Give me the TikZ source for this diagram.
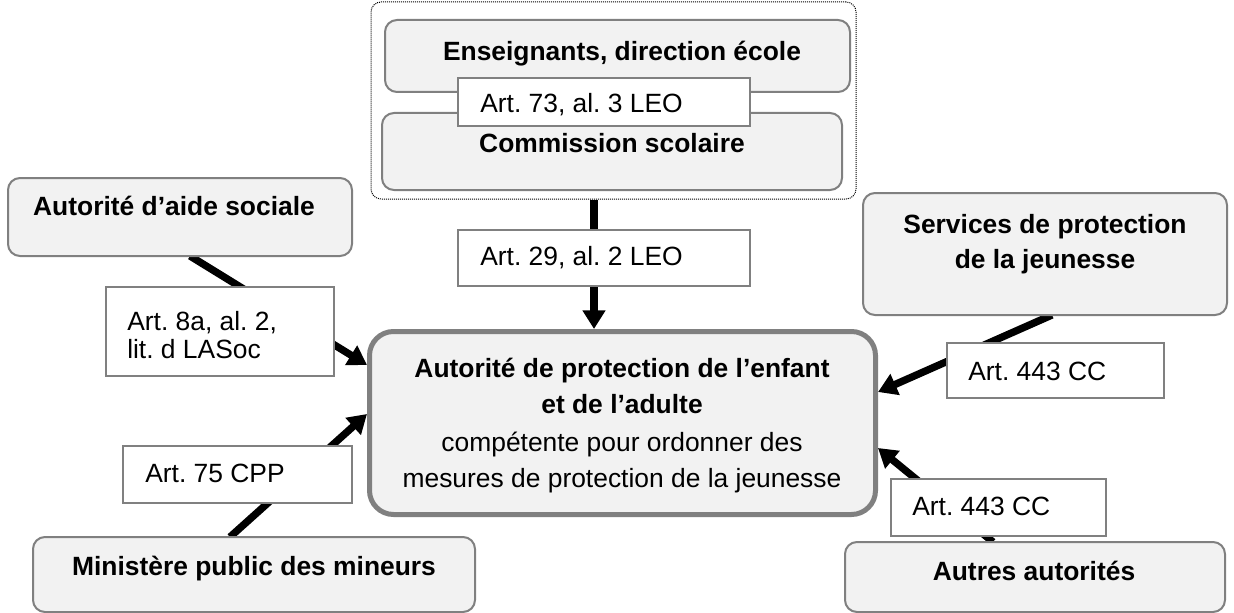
\documentclass[tikz,border=0pt]{standalone}
\usepackage{fontspec}
\setmainfont{Liberation Sans}
\usetikzlibrary{arrows.meta,calc}
\frenchspacing

\definecolor{boxfill}{HTML}{F2F2F2}
\definecolor{boxline}{HTML}{808080}

\tikzset{
  actor/.style={draw=boxline, fill=boxfill, line width=1.5pt, rounded corners=9pt,
    inner sep=0pt},
  central/.style={draw=boxline, fill=boxfill, line width=3.75pt, rounded corners=18pt,
    inner sep=0pt},
  group/.style={draw=black, line width=0.75pt, dash pattern=on 0.75pt off 0.75pt,
    rounded corners=7.5pt, inner sep=0pt},
  lawbox/.style={draw=boxline, fill=white, line width=1.5pt, inner sep=0pt},
  txt/.style={inner sep=0pt, font=\fontsize{19.8}{26}\selectfont},
  ttl/.style={txt, font=\fontsize{19.8}{26}\selectfont\bfseries},
  conn/.style={draw=black, line width=5.5pt,
    -{Triangle[length=14pt,width=16.5pt]}},
}

\begin{document}
\begin{tikzpicture}[x=0.75pt, y=-0.75pt]
\useasboundingbox (0,0) rectangle (1234,613);

% school group
\node[group, minimum width=363.75pt, minimum height=147.75pt] (grp) at (613.5,100.5) {};
\node[actor, minimum width=348.75pt, minimum height=54pt] (ens) at (617.5,56) {};
\node[actor, minimum width=345pt, minimum height=57.75pt] (com) at (612,151.5) {};
\node[ttl, anchor=base] (tens) at (622,61) {Enseignants, direction école};
\node[ttl, anchor=base] (tcom) at (612,152) {Commission scolaire};
\node[lawbox, minimum width=219pt, minimum height=36pt] (l73) at (604,102) {};
\node[txt, anchor=base west] (t73) at (480,113) {Art. 73, al. 3 LEO};

% central authority
\node[central, minimum width=379.5pt, minimum height=137.25pt] (apea) at (622.5,423) {};

% connectors to the central authority
\draw[conn] ($(grp.south)+(-19.5,0)$) -- ($(apea.north)+(-28.5,0)$);
\draw[conn] ($(apea.west)+(-177,-167)$) -- ($(apea.west)+(0,-58)$);
\draw[conn] ($(apea.west)+(-137,114)$) -- ($(apea.west)+(0,-9)$);
\draw[conn] ($(apea.east)+(174,-108)$) -- ($(apea.east)+(0,-31)$);
\draw[conn] ($(apea.east)+(115,119)$) -- ($(apea.east)+(0,25)$);

% outer actors
\node[actor, minimum width=258pt, minimum height=58.5pt] (aide) at (180,217) {};
\node[ttl, anchor=base] (taide) at (174,215) {Autorité d’aide sociale};

\node[actor, minimum width=273pt, minimum height=91.5pt] (serv) at (1045,254) {};
\node[ttl, anchor=base] (tserv1) at (1045,233) {Services de protection};
\node[ttl, anchor=base] (tserv2) at (1045,268) {de la jeunesse};

\node[actor, minimum width=331.5pt, minimum height=56.25pt] (mini) at (254,574.5) {};
\node[ttl, anchor=base] (tmini) at (254,575) {Ministère public des mineurs};

\node[actor, minimum width=285pt, minimum height=52.5pt] (autr) at (1035,577) {};
\node[ttl, anchor=base] (tautr) at (1034,580) {Autres autorités};

% legal bases
\node[lawbox, minimum width=219pt, minimum height=42pt] (l29) at (604,258) {};
\node[txt, anchor=base west] (t29) at (480,265) {Art. 29, al. 2 LEO};

\node[lawbox, minimum width=171pt, minimum height=66.75pt] (l8a) at (220,331.5) {};
\node[txt, anchor=base west] (t8a1) at (127,330) {Art. 8a, al. 2,};
\node[txt, anchor=base west] (t8a2) at (127,358) {lit. d LASoc};

\node[lawbox, minimum width=162.75pt, minimum height=41.25pt] (l443a) at (1055.5,370.5) {};
\node[txt, anchor=base west] (t443a) at (968,380) {Art. 443 CC};

\node[lawbox, minimum width=171.75pt, minimum height=42.75pt] (l75) at (237.5,474.5) {};
\node[txt, anchor=base west] (t75) at (145,482) {Art. 75 CPP};

\node[lawbox, minimum width=161.25pt, minimum height=42.75pt] (l443b) at (998.5,507.5) {};
\node[txt, anchor=base west] (t443b) at (912,515) {Art. 443 CC};

% central text
\node[ttl, anchor=base] (ta1) at (622,377.5) {Autorité de protection de l’enfant};
\node[ttl, anchor=base] (ta2) at (622,413.5) {et de l’adulte};
\node[txt, anchor=base] (ta3) at (622,451.5) {compétente pour ordonner des};
\node[txt, anchor=base] (ta4) at (622,487.5) {mesures de protection de la jeunesse};
\end{tikzpicture}
\end{document}
